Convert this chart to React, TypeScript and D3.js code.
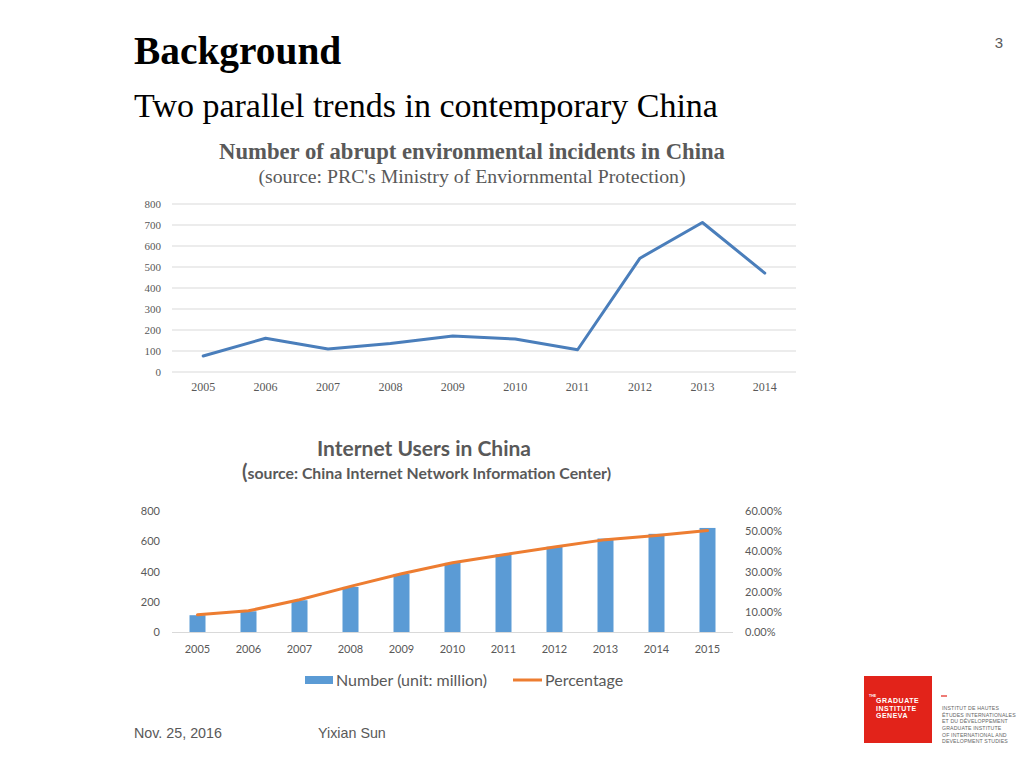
import React from "react";
import * as d3 from "d3";

const incidentYears = ["2005","2006","2007","2008","2009","2010","2011","2012","2013","2014"];
const incidentValues = [76, 161, 110, 136, 171, 157, 106, 542, 712, 471];
const incidentTicks = [0, 100, 200, 300, 400, 500, 600, 700, 800];

const internetYears = ["2005","2006","2007","2008","2009","2010","2011","2012","2013","2014","2015"];
const internetUsers = [111, 137, 210, 298, 384, 457, 513, 564, 618, 649, 688];
const internetPct = [8.5, 10.5, 16.0, 22.6, 28.9, 34.3, 38.3, 42.1, 45.8, 47.9, 50.3];
const leftTicks = [0, 200, 400, 600, 800];
const rightTicks = [0, 10, 20, 30, 40, 50, 60];

const logoLines = ["INSTITUT DE HAUTES", "ÉTUDES INTERNATIONALES", "ET DU DÉVELOPPEMENT", "GRADUATE INSTITUTE", "OF INTERNATIONAL AND", "DEVELOPMENT STUDIES"];
const logoBaselines = [710, 716.5, 723, 730, 736.5, 743];

const serif = "'Liberation Serif', 'Times New Roman', serif";
const sans = "'Liberation Sans', Arial, sans-serif";
const cal = "Lato, 'Open Sans', sans-serif";

export default function App() {
  // top chart
  const x1 = d3.scaleBand().domain(incidentYears).range([172, 796]);
  const y1 = d3.scaleLinear().domain([0, 800]).range([372, 204]);
  const line1 = d3.line<number>()
    .x((_, i) => (x1(incidentYears[i]) as number) + x1.bandwidth() / 2)
    .y((d) => y1(d));

  // bottom chart
  const x2 = d3.scaleBand().domain(internetYears).range([172, 733]);
  const y2 = d3.scaleLinear().domain([0, 800]).range([632, 511]);
  const y2r = d3.scaleLinear().domain([0, 60]).range([632, 511]);
  const line2 = d3.line<number>()
    .x((_, i) => (x2(internetYears[i]) as number) + x2.bandwidth() / 2)
    .y((d) => y2r(d));
  const barW = 16;

  return (
    <svg width={1024} height={768} style={{ position: "absolute", left: 0, top: 0, background: "#fff" }}>
      <rect x={0} y={0} width={1024} height={768} fill="#fff" />
      <text x={134} y={64} fontFamily={serif} fontWeight="bold" fontSize={39.4} fill="#000">Background</text>
      <text x={134} y={117} fontFamily={serif} fontSize={34} fill="#000">Two parallel trends in contemporary China</text>
      <text x={1003} y={48} fontFamily={sans} fontSize={15} fill="#595959" textAnchor="end">3</text>

      {/* top chart */}
      <text x={472} y={159} textAnchor="middle" fontFamily={serif} fontWeight="bold" fontSize={22.7} fill="#595959">Number of abrupt environmental incidents in China</text>
      <text x={472} y={183} textAnchor="middle" fontFamily={serif} fontSize={19.8} fill="#595959">(source: PRC's Ministry of Enviornmental Protection)</text>
      {incidentTicks.map((t) => (
        <g key={t}>
          <line x1={172} x2={796} y1={y1(t)} y2={y1(t)} stroke="#d9d9d9" strokeWidth={1} />
          <text x={161} y={y1(t) + 4} textAnchor="end" fontFamily={serif} fontSize={11} fill="#595959">{t}</text>
        </g>
      ))}
      {incidentYears.map((yr) => (
        <text key={yr} x={(x1(yr) as number) + x1.bandwidth() / 2} y={391} textAnchor="middle" fontFamily={serif} fontSize={12} fill="#595959">{yr}</text>
      ))}
      <path d={line1(incidentValues) || ""} fill="none" stroke="#4a7ebb" strokeWidth={3} strokeLinejoin="round" strokeLinecap="round" />

      {/* bottom chart */}
      <text x={424} y={456} textAnchor="middle" fontFamily={cal} fontWeight="bold" fontSize={21} fill="#595959">Internet Users in China</text>
      <text x={242} y={479} fontFamily={cal} fontWeight="bold" fontSize={15.8} fill="#595959"><tspan fontSize={20}>(</tspan><tspan>source: China Internet Network Information Center)</tspan></text>
      {leftTicks.map((t) => (
        <text key={t} x={160} y={y2(t) + 4} textAnchor="end" fontFamily={cal} fontSize={11} fill="#595959">{t}</text>
      ))}
      {rightTicks.map((t) => (
        <text key={t} x={745} y={y2r(t) + 4} fontFamily={cal} fontSize={11} fill="#595959">{t.toFixed(2)}%</text>
      ))}
      {internetUsers.map((v, i) => (
        <rect key={i} x={(x2(internetYears[i]) as number) + x2.bandwidth() / 2 - barW / 2} y={y2(v)} width={barW} height={632 - y2(v)} fill="#5b9bd5" />
      ))}
      <line x1={172} x2={733} y1={632.5} y2={632.5} stroke="#d9d9d9" strokeWidth={1} />
      {internetYears.map((yr) => (
        <text key={yr} x={(x2(yr) as number) + x2.bandwidth() / 2} y={653} textAnchor="middle" fontFamily={cal} fontSize={11} fill="#595959">{yr}</text>
      ))}
      <path d={line2(internetPct) || ""} fill="none" stroke="#ed7d31" strokeWidth={3} strokeLinejoin="round" strokeLinecap="round" />

      {/* legend */}
      <rect x={305} y={676} width={28} height={8} fill="#5b9bd5" />
      <text x={336} y={686} fontFamily={cal} fontSize={16} fill="#595959">Number (unit: million)</text>
      <line x1={513} x2={542} y1={680} y2={680} stroke="#ed7d31" strokeWidth={3} />
      <text x={545} y={686} fontFamily={cal} fontSize={16} fill="#595959">Percentage</text>

      {/* footer */}
      <text x={134} y={738} fontFamily={sans} fontSize={14.3} fill="#595959">Nov. 25, 2016</text>
      <text x={318} y={738} fontFamily={sans} fontSize={14.3} fill="#595959">Yixian Sun</text>

      {/* logo */}
      <rect x={864} y={676} width={68} height={67} fill="#e2231a" />
      <text x={869} y={697} fontFamily={sans} fontWeight="bold" fontSize={3.5} fill="#fff">THE</text>
      <text x={876} y={703} fontFamily={sans} fontWeight="bold" fontSize={7} fill="#fff" letterSpacing={0.5}>GRADUATE</text>
      <text x={876} y={710.5} fontFamily={sans} fontWeight="bold" fontSize={7} fill="#fff" letterSpacing={0.5}>INSTITUTE</text>
      <text x={876} y={718} fontFamily={sans} fontWeight="bold" fontSize={7} fill="#fff" letterSpacing={0.5}>GENEVA</text>
      <line x1={941} x2={947} y1={696} y2={696} stroke="#e2231a" strokeWidth={1.2} />
      {logoLines.map((l, i) => (
        <text key={i} x={942} y={logoBaselines[i]} fontFamily={sans} fontSize={5.2} letterSpacing={0.15} fill="#666">{l}</text>
      ))}
    </svg>
  );
}
